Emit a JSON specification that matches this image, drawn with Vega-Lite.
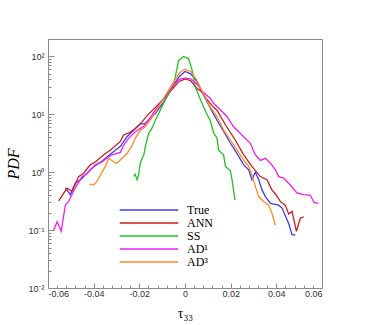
{
  "$schema": "https://vega.github.io/schema/vega-lite/v6.json",
  "autosize": {"type": "none"},
  "width": 274,
  "height": 249,
  "padding": {"left": 48, "top": 39, "right": 44, "bottom": 37},
  "background": "white",
  "config": {
    "view": {"stroke": "#8a8a8a", "strokeWidth": 1},
    "axis": {"grid": false, "domain": false, "tickColor": "#8a8a8a", "labelFont": "Liberation Sans", "labelFontSize": 9, "labelColor": "#333333", "labelOverlap": false, "titleFont": "Liberation Serif", "titleColor": "black", "titleFontWeight": "normal"}
  },
  "datasets": {
    "pdf": [
      {"s": "True", "x": -0.0524, "y": 0.53}, {"s": "True", "x": -0.0502, "y": 0.41}, {"s": "True", "x": -0.048, "y": 0.65}, {"s": "True", "x": -0.0458, "y": 0.74}, {"s": "True", "x": -0.0436, "y": 0.9}, {"s": "True", "x": -0.0415, "y": 1.1}, {"s": "True", "x": -0.0393, "y": 1.3}, {"s": "True", "x": -0.0364, "y": 1.55}, {"s": "True", "x": -0.0334, "y": 1.95}, {"s": "True", "x": -0.0305, "y": 2.4}, {"s": "True", "x": -0.0283, "y": 2.8}, {"s": "True", "x": -0.0254, "y": 4.1}, {"s": "True", "x": -0.0225, "y": 5.3}, {"s": "True", "x": -0.0196, "y": 6.8}, {"s": "True", "x": -0.0174, "y": 7.0}, {"s": "True", "x": -0.0152, "y": 8.5}, {"s": "True", "x": -0.013, "y": 10.3}, {"s": "True", "x": -0.0093, "y": 16.4}, {"s": "True", "x": -0.005, "y": 32}, {"s": "True", "x": -0.0025, "y": 45}, {"s": "True", "x": 0, "y": 55}, {"s": "True", "x": 0.0025, "y": 50}, {"s": "True", "x": 0.005, "y": 38}, {"s": "True", "x": 0.0075, "y": 24}, {"s": "True", "x": 0.01, "y": 15.5}, {"s": "True", "x": 0.012, "y": 11}, {"s": "True", "x": 0.014, "y": 7.9}, {"s": "True", "x": 0.017, "y": 5.0}, {"s": "True", "x": 0.0199, "y": 3.16}, {"s": "True", "x": 0.0228, "y": 2.1}, {"s": "True", "x": 0.0257, "y": 1.34}, {"s": "True", "x": 0.0279, "y": 1.1}, {"s": "True", "x": 0.0293, "y": 0.74}, {"s": "True", "x": 0.0308, "y": 1.0}, {"s": "True", "x": 0.0323, "y": 0.74}, {"s": "True", "x": 0.0337, "y": 0.5}, {"s": "True", "x": 0.0352, "y": 0.38}, {"s": "True", "x": 0.0374, "y": 0.29}, {"s": "True", "x": 0.041, "y": 0.27}, {"s": "True", "x": 0.0425, "y": 0.24}, {"s": "True", "x": 0.0454, "y": 0.13}, {"s": "True", "x": 0.0469, "y": 0.083}, {"s": "True", "x": 0.0483, "y": 0.083},
      {"s": "ANN", "x": -0.0553, "y": 0.32}, {"s": "ANN", "x": -0.0517, "y": 0.53}, {"s": "ANN", "x": -0.0495, "y": 0.47}, {"s": "ANN", "x": -0.0466, "y": 0.84}, {"s": "ANN", "x": -0.0444, "y": 0.96}, {"s": "ANN", "x": -0.0415, "y": 1.34}, {"s": "ANN", "x": -0.0393, "y": 1.5}, {"s": "ANN", "x": -0.0349, "y": 2.1}, {"s": "ANN", "x": -0.0327, "y": 2.4}, {"s": "ANN", "x": -0.0283, "y": 3.4}, {"s": "ANN", "x": -0.0269, "y": 4.4}, {"s": "ANN", "x": -0.024, "y": 4.9}, {"s": "ANN", "x": -0.0218, "y": 5.7}, {"s": "ANN", "x": -0.0188, "y": 7.4}, {"s": "ANN", "x": -0.0166, "y": 9.5}, {"s": "ANN", "x": -0.0123, "y": 14}, {"s": "ANN", "x": -0.008, "y": 21}, {"s": "ANN", "x": -0.005, "y": 29}, {"s": "ANN", "x": -0.0025, "y": 37}, {"s": "ANN", "x": 0, "y": 41}, {"s": "ANN", "x": 0.0025, "y": 38}, {"s": "ANN", "x": 0.0053, "y": 28}, {"s": "ANN", "x": 0.0075, "y": 24}, {"s": "ANN", "x": 0.0096, "y": 18}, {"s": "ANN", "x": 0.012, "y": 14}, {"s": "ANN", "x": 0.014, "y": 11.8}, {"s": "ANN", "x": 0.0177, "y": 6.6}, {"s": "ANN", "x": 0.022, "y": 3.6}, {"s": "ANN", "x": 0.0257, "y": 2.0}, {"s": "ANN", "x": 0.0293, "y": 1.26}, {"s": "ANN", "x": 0.033, "y": 0.84}, {"s": "ANN", "x": 0.0359, "y": 0.74}, {"s": "ANN", "x": 0.038, "y": 0.5}, {"s": "ANN", "x": 0.04, "y": 0.4}, {"s": "ANN", "x": 0.0418, "y": 0.31}, {"s": "ANN", "x": 0.0439, "y": 0.27}, {"s": "ANN", "x": 0.0454, "y": 0.19}, {"s": "ANN", "x": 0.0469, "y": 0.21}, {"s": "ANN", "x": 0.0488, "y": 0.095}, {"s": "ANN", "x": 0.0505, "y": 0.16}, {"s": "ANN", "x": 0.052, "y": 0.17},
      {"s": "SS", "x": -0.0225, "y": 0.85}, {"s": "SS", "x": -0.0218, "y": 0.92}, {"s": "SS", "x": -0.021, "y": 0.74}, {"s": "SS", "x": -0.0203, "y": 0.9}, {"s": "SS", "x": -0.0196, "y": 1.43}, {"s": "SS", "x": -0.0188, "y": 1.74}, {"s": "SS", "x": -0.018, "y": 2.0}, {"s": "SS", "x": -0.0174, "y": 2.75}, {"s": "SS", "x": -0.0159, "y": 4.7}, {"s": "SS", "x": -0.0145, "y": 5.7}, {"s": "SS", "x": -0.013, "y": 7.9}, {"s": "SS", "x": -0.0108, "y": 11.8}, {"s": "SS", "x": -0.0088, "y": 17.4}, {"s": "SS", "x": -0.007, "y": 23}, {"s": "SS", "x": -0.005, "y": 32}, {"s": "SS", "x": -0.0028, "y": 85}, {"s": "SS", "x": -0.0006, "y": 100}, {"s": "SS", "x": 0.0016, "y": 91}, {"s": "SS", "x": 0.0031, "y": 58}, {"s": "SS", "x": 0.0045, "y": 30}, {"s": "SS", "x": 0.007, "y": 17}, {"s": "SS", "x": 0.0096, "y": 10}, {"s": "SS", "x": 0.011, "y": 7.9}, {"s": "SS", "x": 0.0126, "y": 4.7}, {"s": "SS", "x": 0.014, "y": 3.9}, {"s": "SS", "x": 0.0147, "y": 2.4}, {"s": "SS", "x": 0.0169, "y": 2.0}, {"s": "SS", "x": 0.0177, "y": 1.26}, {"s": "SS", "x": 0.0199, "y": 1.05}, {"s": "SS", "x": 0.0206, "y": 0.74}, {"s": "SS", "x": 0.0219, "y": 0.33},
      {"s": "AD¹", "x": -0.0575, "y": 0.1}, {"s": "AD¹", "x": -0.056, "y": 0.14}, {"s": "AD¹", "x": -0.0542, "y": 0.096}, {"s": "AD¹", "x": -0.0524, "y": 0.27}, {"s": "AD¹", "x": -0.051, "y": 0.31}, {"s": "AD¹", "x": -0.0488, "y": 0.47}, {"s": "AD¹", "x": -0.0473, "y": 0.6}, {"s": "AD¹", "x": -0.0451, "y": 0.84}, {"s": "AD¹", "x": -0.0429, "y": 0.95}, {"s": "AD¹", "x": -0.0393, "y": 1.34}, {"s": "AD¹", "x": -0.0364, "y": 1.5}, {"s": "AD¹", "x": -0.0342, "y": 1.74}, {"s": "AD¹", "x": -0.032, "y": 2.0}, {"s": "AD¹", "x": -0.0283, "y": 2.2}, {"s": "AD¹", "x": -0.0269, "y": 2.9}, {"s": "AD¹", "x": -0.0247, "y": 3.85}, {"s": "AD¹", "x": -0.0218, "y": 5.0}, {"s": "AD¹", "x": -0.018, "y": 6.3}, {"s": "AD¹", "x": -0.015, "y": 9}, {"s": "AD¹", "x": -0.012, "y": 13.5}, {"s": "AD¹", "x": -0.008, "y": 22}, {"s": "AD¹", "x": -0.005, "y": 32}, {"s": "AD¹", "x": -0.0025, "y": 40}, {"s": "AD¹", "x": 0, "y": 42}, {"s": "AD¹", "x": 0.0025, "y": 41}, {"s": "AD¹", "x": 0.0053, "y": 33}, {"s": "AD¹", "x": 0.008, "y": 24}, {"s": "AD¹", "x": 0.011, "y": 19}, {"s": "AD¹", "x": 0.0126, "y": 15.4}, {"s": "AD¹", "x": 0.0155, "y": 12}, {"s": "AD¹", "x": 0.0184, "y": 9.1}, {"s": "AD¹", "x": 0.0213, "y": 6.1}, {"s": "AD¹", "x": 0.0257, "y": 4.1}, {"s": "AD¹", "x": 0.0286, "y": 3.16}, {"s": "AD¹", "x": 0.0308, "y": 2.0}, {"s": "AD¹", "x": 0.033, "y": 1.6}, {"s": "AD¹", "x": 0.0352, "y": 1.74}, {"s": "AD¹", "x": 0.0374, "y": 1.43}, {"s": "AD¹", "x": 0.0396, "y": 1.1}, {"s": "AD¹", "x": 0.041, "y": 0.84}, {"s": "AD¹", "x": 0.0432, "y": 0.79}, {"s": "AD¹", "x": 0.0461, "y": 0.6}, {"s": "AD¹", "x": 0.049, "y": 0.44}, {"s": "AD¹", "x": 0.052, "y": 0.41}, {"s": "AD¹", "x": 0.0549, "y": 0.4}, {"s": "AD¹", "x": 0.0565, "y": 0.3}, {"s": "AD¹", "x": 0.0585, "y": 0.29},
      {"s": "AD³", "x": -0.0418, "y": 0.62}, {"s": "AD³", "x": -0.04, "y": 0.6}, {"s": "AD³", "x": -0.0385, "y": 0.7}, {"s": "AD³", "x": -0.037, "y": 0.9}, {"s": "AD³", "x": -0.0349, "y": 1.26}, {"s": "AD³", "x": -0.0334, "y": 1.74}, {"s": "AD³", "x": -0.0312, "y": 1.5}, {"s": "AD³", "x": -0.0298, "y": 1.43}, {"s": "AD³", "x": -0.0276, "y": 1.74}, {"s": "AD³", "x": -0.0254, "y": 2.1}, {"s": "AD³", "x": -0.0232, "y": 2.9}, {"s": "AD³", "x": -0.0218, "y": 3.85}, {"s": "AD³", "x": -0.0196, "y": 5.3}, {"s": "AD³", "x": -0.0174, "y": 6.1}, {"s": "AD³", "x": -0.0152, "y": 8}, {"s": "AD³", "x": -0.0123, "y": 12}, {"s": "AD³", "x": -0.009, "y": 20}, {"s": "AD³", "x": -0.005, "y": 36}, {"s": "AD³", "x": -0.0025, "y": 52}, {"s": "AD³", "x": 0, "y": 60}, {"s": "AD³", "x": 0.0025, "y": 55}, {"s": "AD³", "x": 0.005, "y": 40}, {"s": "AD³", "x": 0.0075, "y": 25}, {"s": "AD³", "x": 0.011, "y": 13.4}, {"s": "AD³", "x": 0.014, "y": 9.1}, {"s": "AD³", "x": 0.017, "y": 5.3}, {"s": "AD³", "x": 0.0199, "y": 3.6}, {"s": "AD³", "x": 0.0228, "y": 2.4}, {"s": "AD³", "x": 0.0257, "y": 1.6}, {"s": "AD³", "x": 0.0279, "y": 1.26}, {"s": "AD³", "x": 0.0293, "y": 0.9}, {"s": "AD³", "x": 0.0308, "y": 0.57}, {"s": "AD³", "x": 0.0323, "y": 0.38}, {"s": "AD³", "x": 0.0345, "y": 0.31}, {"s": "AD³", "x": 0.0366, "y": 0.27}, {"s": "AD³", "x": 0.038, "y": 0.2}, {"s": "AD³", "x": 0.0396, "y": 0.12}
    ]
  },
  "data": {"name": "pdf"},
  "mark": {"type": "line", "strokeWidth": 1.3, "interpolate": "linear"},
  "encoding": {
    "x": {
      "field": "x", "type": "quantitative",
      "scale": {"domain": [-0.06, 0.06], "nice": false, "zero": false},
      "axis": {
        "title": "τ₃₃", "titleFontSize": 14, "titlePadding": 6,
        "values": [-0.06, -0.056, -0.052, -0.048, -0.044, -0.04, -0.036, -0.032, -0.028, -0.024, -0.02, -0.016, -0.012, -0.008, -0.004, 0, 0.004, 0.008, 0.012, 0.016, 0.02, 0.024, 0.028, 0.032, 0.036, 0.04, 0.044, 0.048, 0.052, 0.056, 0.06],
        "labelExpr": "abs(round(datum.value*1000))%20==0 ? (datum.value==0 ? '0' : (datum.value<0 ? '-' : '') + format(abs(datum.value), '.2f')) : ''",
        "tickSize": {"condition": {"test": "abs(round(datum.value*1000))%20==0", "value": -5}, "value": -3},
        "labelPadding": 6
      }
    },
    "y": {
      "field": "y", "type": "quantitative",
      "scale": {"type": "log", "domain": [0.01, 200], "nice": false},
      "axis": {
        "title": "PDF", "titleFontSize": 16, "titleFontStyle": "italic", "titlePadding": 6,
        "values": [0.01, 0.02, 0.03, 0.04, 0.05, 0.06, 0.07, 0.08, 0.09, 0.1, 0.2, 0.3, 0.4, 0.5, 0.6, 0.7, 0.8, 0.9, 1, 2, 3, 4, 5, 6, 7, 8, 9, 10, 20, 30, 40, 50, 60, 70, 80, 90, 100, 200],
        "labelExpr": "datum.value==100 ? '10²' : datum.value==10 ? '10¹' : datum.value==1 ? '10⁰' : datum.value==0.1 ? '10⁻¹' : datum.value==0.01 ? '10⁻²' : ''",
        "tickSize": {"condition": {"test": "indexof([0.01,0.1,1,10,100], datum.value) >= 0", "value": -6}, "value": -3},
        "labelPadding": 10
      }
    },
    "color": {
      "field": "s", "type": "nominal",
      "scale": {"domain": ["True", "ANN", "SS", "AD¹", "AD³"], "range": ["#3c3cee", "#c81e1e", "#22c022", "#f020f0", "#ff8a26"]},
      "legend": {
        "title": null, "orient": "none", "legendX": 94, "legendY": 164, "padding": 0,
        "symbolType": "M-5,0H5", "symbolSize": 137, "symbolStrokeWidth": 1.3,
        "labelFont": "Liberation Serif", "labelFontSize": 12, "labelColor": "black", "labelOffset": 31, "rowPadding": 0
      }
    }
  }
}
